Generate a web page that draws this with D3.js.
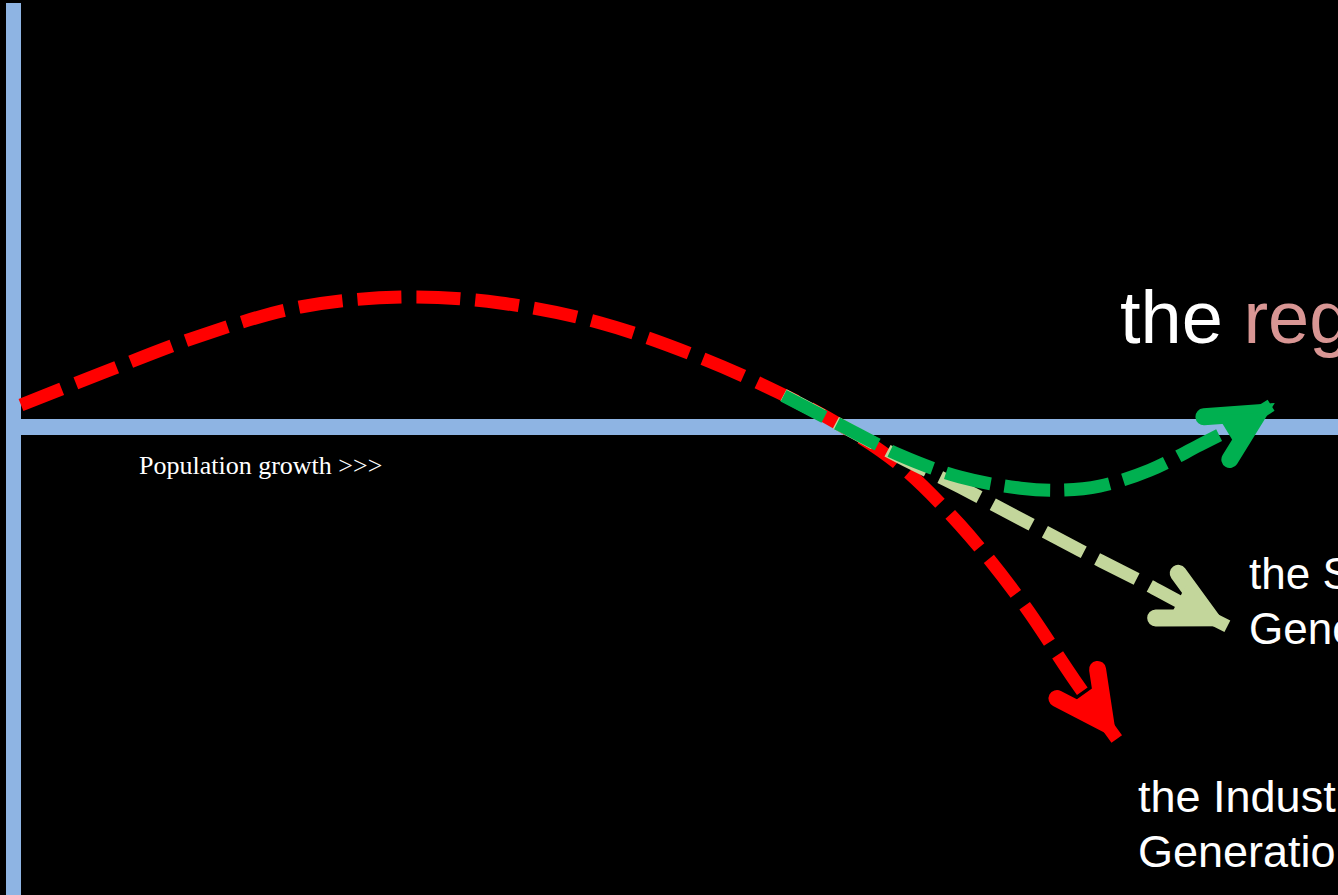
<!DOCTYPE html>
<html>
<head>
<meta charset="utf-8">
<title>Generations</title>
<style>
  html, body { margin: 0; padding: 0; background: #000; overflow: hidden; }
  svg { display: block; }
  .label { font-family: "Liberation Sans", Arial, sans-serif; fill: #fff; }
  .axislabel { font-family: "Liberation Serif", "Times New Roman", serif; fill: #fff; }
</style>
</head>
<body>
<div id="chart"></div>
<script src="https://d3js.org/d3.v7.min.js"></script>
<script>
  // time runs left to right, growth is measured from the horizontal axis
  const redTime = [0, 6, 13.6, 21.2, 29.2, 36.4, 44, 51.6, 57.6, 62.2, 66.7, 71.3, 75.9, 80, 83.2];
  const redGrowth = [0.55, 1.33, 2.28, 3.0, 3.25, 3.1, 2.6, 1.73, 0.85, 0.05, -0.95, -2.45, -4.33, -6.33, -7.8];

  const paleTime = [57.9, 62.2, 66.7, 71.3, 75.9, 80.4, 85, 88, 91.6];
  const paleGrowth = [0.8, 0.05, -0.75, -1.5, -2.3, -3.08, -3.85, -4.38, -4.98];

  const greenTime = [57.9, 62.2, 66.7, 71.3, 75.9, 78.9, 81.9, 85.7, 89.5, 92.6, 95.2];
  const greenGrowth = [0.78, 0.05, -0.7, -1.25, -1.53, -1.58, -1.48, -1.08, -0.45, 0.08, 0.6];

  const AXIS_COLOR = "#8EB4E3";
  const RED = "#FF0000";
  const PALE = "#C3D69B";
  const GREEN = "#00B050";
  const PINK = "#D99694";
  const STROKE = 13;
  const HEAD_STROKE = 17;

  var width = 1338, height = 895;

  var svg = d3.select("#chart")
    .append("svg")
    .attr("width", width)
    .attr("height", height);

  svg.append("rect").attr("width", width).attr("height", height).attr("fill", "#000");

  var x = d3.scaleLinear().domain([0, 100]).range([21, 1338]);
  var y = d3.scaleLinear().domain([-5, 5]).range([627, 227]);

  // axes as thick bars
  svg.append("rect")
    .attr("x", x(0) - 15).attr("y", 3)
    .attr("width", 15).attr("height", height)
    .attr("fill", AXIS_COLOR);
  svg.append("rect")
    .attr("x", x(0)).attr("y", y(0) - 8)
    .attr("width", width - x(0)).attr("height", 16)
    .attr("fill", AXIS_COLOR);

  svg.append("text")
    .attr("class", "axislabel")
    .attr("x", 139).attr("y", 474)
    .style("font-size", "26px")
    .text("Population growth >>>");

  var line = d3.line()
    .x(function (d) { return x(d[0]); })
    .y(function (d) { return y(d[1]); })
    .curve(d3.curveCatmullRom.alpha(0.5));

  function zip(a, b) { return a.map(function (v, i) { return [v, b[i]]; }); }

  function drawCurve(pts, color, dash) {
    svg.append("path")
      .datum(pts)
      .attr("d", line)
      .attr("fill", "none")
      .attr("stroke", color)
      .attr("stroke-width", STROKE)
      .attr("stroke-dasharray", dash);

    // open arrow head at the end of the curve
    var n = pts.length;
    var tx = x(pts[n - 1][0]), ty = y(pts[n - 1][1]);
    var px = x(pts[n - 2][0]), py = y(pts[n - 2][1]);
    var ang = Math.atan2(ty - py, tx - px);
    var half = 27 * Math.PI / 180, len = 55;
    var back = (HEAD_STROKE / 2) / Math.sin(half);
    var vx = tx - back * Math.cos(ang), vy = ty - back * Math.sin(ang);
    function arm(sign, l) {
      return [vx + l * Math.cos(ang + Math.PI + sign * half), vy + l * Math.sin(ang + Math.PI + sign * half)];
    }
    svg.append("path")
      .attr("d", d3.line()([arm(-1, len), [vx, vy], arm(1, len)]))
      .attr("fill", "none")
      .attr("stroke", color)
      .attr("stroke-width", HEAD_STROKE)
      .attr("stroke-linecap", "round")
      .attr("stroke-linejoin", "miter")
      .attr("stroke-miterlimit", 10);
    // solid wedge near the tip
    svg.append("path")
      .attr("d", d3.line()([[vx, vy], arm(-1, len * 0.75), arm(1, len * 0.75)]) + "Z")
      .attr("fill", color);
  }

  drawCurve(zip(redTime, redGrowth), RED, "44 15");
  drawCurve(zip(paleTime, paleGrowth), PALE, "44 15");
  drawCurve(zip(greenTime, greenGrowth), GREEN, "46 14");

  // labels
  var big = svg.append("text").attr("class", "label")
    .attr("x", 1120).attr("y", 343).style("font-size", "74px");
  big.append("tspan").text("the ");
  big.append("tspan").attr("fill", PINK).text("regenerative");

  var pale = svg.append("text").attr("class", "label").style("font-size", "44px");
  pale.append("tspan").attr("x", 1249).attr("y", 589).text("the Silent");
  pale.append("tspan").attr("x", 1249).attr("y", 644).text("Generation");

  var red = svg.append("text").attr("class", "label").style("font-size", "45px");
  red.append("tspan").attr("x", 1138).attr("y", 812).text("the Industrial");
  red.append("tspan").attr("x", 1138).attr("y", 867).text("Generation");
</script>
</body>
</html>
